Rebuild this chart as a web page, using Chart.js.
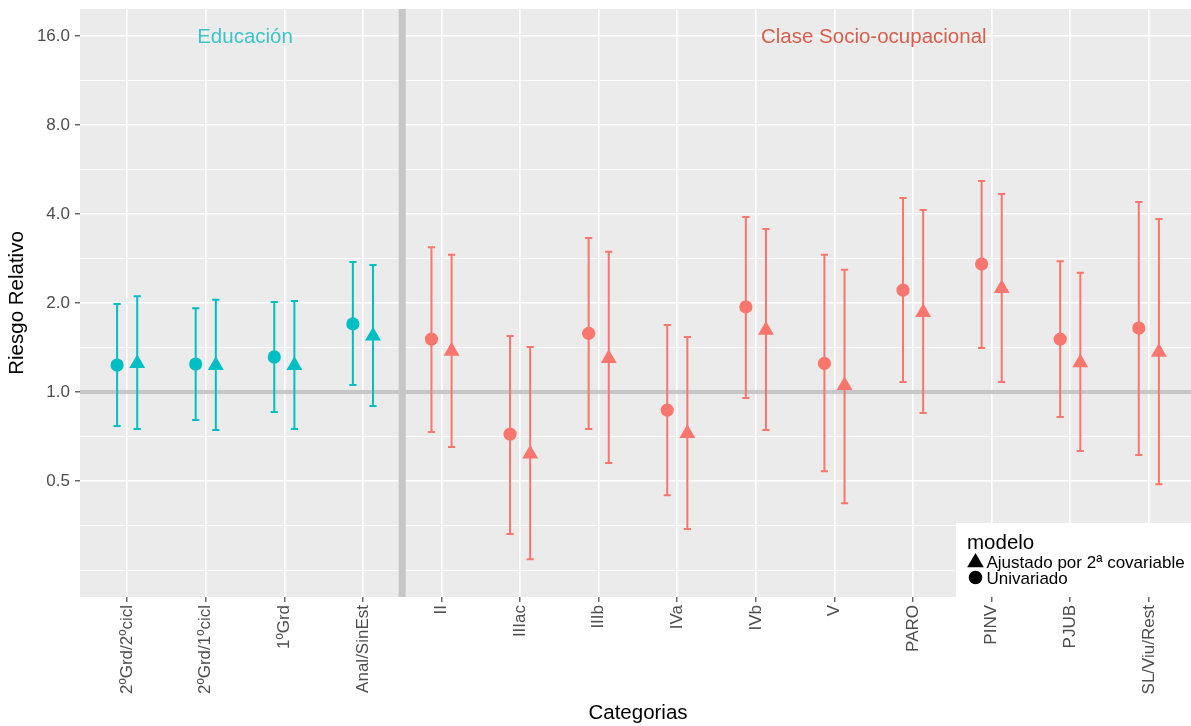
<!DOCTYPE html>
<html>
<head>
<meta charset="utf-8">
<script src="https://cdn.jsdelivr.net/npm/chart.js@4.4.1/dist/chart.umd.min.js"></script>
<style>
  html, body { margin: 0; padding: 0; background: #ffffff; overflow: hidden; }
  #wrap { width: 1197px; height: 726px; position: relative; }
</style>
</head>
<body>
<div id="wrap"><canvas id="grafico"></canvas></div>
<script>
// Categorías del eje X
const categorias = ['2ºGrd/2ºcicl', '2ºGrd/1ºcicl', '1ºGrd', 'Anal/SinEst', 'II', 'IIIac', 'IIIb',
  'IVa', 'IVb', 'V', 'PARO', 'PINV', 'PJUB', 'SL/Viu/Rest'];
// Grupo de cada categoría
const grupos = ['Educación', 'Educación', 'Educación', 'Educación',
  'Clase Socio-ocupacional', 'Clase Socio-ocupacional', 'Clase Socio-ocupacional',
  'Clase Socio-ocupacional', 'Clase Socio-ocupacional', 'Clase Socio-ocupacional',
  'Clase Socio-ocupacional', 'Clase Socio-ocupacional', 'Clase Socio-ocupacional',
  'Clase Socio-ocupacional'];
// Riesgo relativo, modelo univariado, con intervalo de confianza
const univariado    = [1.234, 1.244, 1.314, 1.70, 1.51, 0.721, 1.58, 0.869, 1.94, 1.25, 2.21, 2.71, 1.51, 1.646];
const univariadoInf = [0.767, 0.804, 0.856, 1.056, 0.732, 0.331, 0.75, 0.448, 0.954, 0.54, 1.081, 1.41, 0.823, 0.612];
const univariadoSup = [1.985, 1.92, 2.016, 2.75, 3.09, 1.547, 3.32, 1.685, 3.91, 2.91, 4.53, 5.17, 2.77, 4.39];
// Riesgo relativo, modelo ajustado por 2ª covariable
const ajustado    = [1.249, 1.23, 1.23, 1.547, 1.376, 0.618, 1.30, 0.724, 1.62, 1.053, 1.86, 2.24, 1.256, 1.365];
const ajustadoInf = [0.75, 0.744, 0.75, 0.897, 0.652, 0.272, 0.575, 0.344, 0.744, 0.421, 0.849, 1.081, 0.632, 0.488];
const ajustadoSup = [2.11, 2.05, 2.03, 2.69, 2.91, 1.42, 2.98, 1.535, 3.56, 2.59, 4.13, 4.67, 2.53, 3.85];
// Marcas del eje Y (escala logarítmica)
const yTicks = [0.5, 1, 2, 4, 8, 16];
// Rótulos de cada bloque y su posición en el eje X
const rotulos = ['Educación', 'Clase Socio-ocupacional'];
const rotulosX = [1.5, 9.5];

// --- estilo ---
const FUENTE = '"Liberation Sans", Arial, Helvetica, sans-serif';
const COLORES = { 'Educación': '#00BFC4', 'Clase Socio-ocupacional': '#F8766D' };
const COLORES_ROTULO = { 'Educación': '#3cc5c8', 'Clase Socio-ocupacional': '#d6604d' };
const DESPLAZA = 0.128;        // separación horizontal entre los dos modelos
const Y_MIN = 0.2027, Y_MAX = 19.74;

// marcas menores: punto medio logarítmico entre marcas mayores, más un paso por debajo
const menores = [yTicks[0] / 2];
const todas = [yTicks[0] / 2, ...yTicks];
for (let i = 0; i < todas.length - 1; i++) menores.push(Math.sqrt(todas[i] * todas[i + 1]));
const marcasY = [...yTicks, ...menores].sort((a, b) => a - b);
const esMayor = v => yTicks.includes(v);

const puntos = (vals, d) => vals.map((v, i) => ({ x: i + d, y: v }));
const colorPunto = ctx => COLORES[grupos[ctx.dataIndex]];

// los ejes no reservan margen extra para sus etiquetas
const sinMargen = s => { s.paddingTop = 0; s.paddingBottom = 0; s.paddingLeft = 0; s.paddingRight = 0; };

// fondo gris del panel
const fondoPanel = {
  id: 'fondoPanel',
  beforeDraw(chart) {
    const { ctx, chartArea: a } = chart;
    ctx.save();
    ctx.fillStyle = '#ebebeb';
    ctx.fillRect(a.left, a.top, a.right - a.left, a.bottom - a.top);
    ctx.restore();
  }
};

// línea de referencia en RR = 1 y separación entre bloques, luego barras de error
const lineasYErrores = {
  id: 'lineasYErrores',
  beforeDatasetsDraw(chart) {
    const { ctx, chartArea: a, scales } = chart;
    const xs = scales.x, ys = scales.y;
    ctx.save();
    ctx.beginPath();
    ctx.rect(a.left, a.top, a.right - a.left, a.bottom - a.top);
    ctx.clip();
    ctx.strokeStyle = '#c6c6c8';
    // separación entre Educación y Clase
    const nEdu = grupos.filter(g => g === 'Educación').length;
    const xv = xs.getPixelForValue(nEdu - 0.5);
    ctx.lineWidth = 7;
    ctx.beginPath(); ctx.moveTo(xv, a.top); ctx.lineTo(xv, a.bottom); ctx.stroke();
    // línea horizontal en 1
    const y1 = ys.getPixelForValue(1);
    ctx.lineWidth = 4;
    ctx.beginPath(); ctx.moveTo(a.left, y1); ctx.lineTo(a.right, y1); ctx.stroke();

    // barras de error
    chart.data.datasets.forEach((ds, di) => {
      const meta = chart.getDatasetMeta(di);
      meta.data.forEach((el, i) => {
        const x = el.x;
        const yLo = ys.getPixelForValue(ds.inf[i]);
        const yHi = ys.getPixelForValue(ds.sup[i]);
        ctx.strokeStyle = COLORES[grupos[i]];
        ctx.lineWidth = 2;
        ctx.lineCap = 'butt';
        ctx.beginPath();
        ctx.moveTo(x, yLo); ctx.lineTo(x, yHi);
        ctx.moveTo(x - 3.6, yLo); ctx.lineTo(x + 3.6, yLo);
        ctx.moveTo(x - 3.6, yHi); ctx.lineTo(x + 3.6, yHi);
        ctx.stroke();
      });
    });
    ctx.restore();
  }
};

// rótulos de bloque y leyenda
const rotulosYLeyenda = {
  id: 'rotulosYLeyenda',
  afterDraw(chart) {
    const { ctx, scales } = chart;
    const xs = scales.x, ys = scales.y;
    ctx.save();
    ctx.font = '20.5px ' + FUENTE;
    ctx.textAlign = 'center';
    ctx.textBaseline = 'middle';
    // rótulos de bloque a la altura de 16
    rotulos.forEach((r, k) => {
      ctx.fillStyle = COLORES_ROTULO[r];
      ctx.fillText(r, xs.getPixelForValue(rotulosX[k]), ys.getPixelForValue(yTicks[yTicks.length - 1]) + 1);
    });

    // leyenda
    ctx.fillStyle = '#ffffff';
    ctx.fillRect(956, 523, 241, 74);
    ctx.fillStyle = '#000000';
    ctx.textAlign = 'left';
    ctx.textBaseline = 'alphabetic';
    ctx.font = '20.5px ' + FUENTE;
    ctx.fillText('modelo', 967, 549);
    ctx.font = '17px ' + FUENTE;
    const filas = [{ y: 567.5, cy: 562.5 }, { y: 583.5, cy: 577.5 }];
    chart.data.datasets.forEach((ds, di) => {
      const f = filas[di];
      ctx.fillStyle = '#000000';
      ctx.strokeStyle = '#000000';
      Chart.helpers.drawPoint(ctx, {
        pointStyle: ds.pointStyle, radius: ds.pointStyle === 'triangle' ? 9.6 : 6.8,
        rotation: 0, borderWidth: 0
      }, 975.5, f.cy);
      ctx.fillStyle = '#000000';
      ctx.fillText(ds.label, 986.5, f.y);
    });
    ctx.restore();
  }
};

new Chart(document.getElementById('grafico'), {
  type: 'scatter',
  data: {
    datasets: [
      {
        label: 'Ajustado por 2ª covariable',
        data: puntos(ajustado, DESPLAZA),
        inf: ajustadoInf, sup: ajustadoSup,
        pointStyle: 'triangle',
        pointRadius: 9.2,
        pointHoverRadius: 9.2,
        pointBorderWidth: 0,
        pointBackgroundColor: colorPunto,
        pointBorderColor: colorPunto
      },
      {
        label: 'Univariado',
        data: puntos(univariado, -DESPLAZA),
        inf: univariadoInf, sup: univariadoSup,
        pointStyle: 'circle',
        pointRadius: 6.6,
        pointHoverRadius: 6.6,
        pointBorderWidth: 0,
        pointBackgroundColor: colorPunto,
        pointBorderColor: colorPunto
      }
    ]
  },
  options: {
    responsive: true,
    maintainAspectRatio: false,
    animation: false,
    events: [],
    layout: { autoPadding: false, padding: { top: 9, right: 1, left: 0, bottom: 0 } },
    plugins: { legend: { display: false }, tooltip: { enabled: false } },
    scales: {
      x: {
        type: 'linear',
        bounds: 'data',
        min: -0.6,
        max: categorias.length - 1 + 0.6,
        afterBuildTicks: s => { s.ticks = categorias.map((_, i) => ({ value: i })); },
        afterFit: s => { s.height = 129; sinMargen(s); },
        ticks: {
          autoSkip: false,
          minRotation: 90,
          maxRotation: 90,
          padding: 3,
          color: '#4d4d4d',
          font: { family: FUENTE, size: 17 },
          callback: v => categorias[v]
        },
        grid: {
          color: '#ffffff',
          lineWidth: 1.6,
          tickColor: '#333333',
          tickLength: 5,
          tickWidth: 1.1
        },
        border: { display: false },
        title: {
          display: true,
          text: 'Categorias',
          color: '#000000',
          font: { family: FUENTE, size: 20.5 },
          padding: { top: 0, bottom: 0 }
        }
      },
      y: {
        type: 'logarithmic',
        bounds: 'data',
        min: Y_MIN,
        max: Y_MAX,
        afterBuildTicks: s => { s.ticks = marcasY.map(v => ({ value: v, major: false })); },
        afterFit: s => { s.width = 80; sinMargen(s); },
        ticks: {
          autoSkip: false,
          padding: 5,
          color: '#4d4d4d',
          font: { family: FUENTE, size: 17 },
          callback: v => esMayor(v) ? v.toFixed(1) : ''
        },
        grid: {
          color: '#ffffff',
          lineWidth: c => esMayor(c.tick.value) ? 1.6 : 0.8,
          tickColor: c => esMayor(c.tick.value) ? '#333333' : 'rgba(0,0,0,0)',
          tickLength: 5,
          tickWidth: 1.1
        },
        border: { display: false },
        title: {
          display: true,
          text: 'Riesgo Relativo',
          color: '#000000',
          font: { family: FUENTE, size: 20.5 },
          padding: { top: 5, bottom: 0 }
        }
      }
    }
  },
  plugins: [fondoPanel, lineasYErrores, rotulosYLeyenda]
});
</script>
</body>
</html>
